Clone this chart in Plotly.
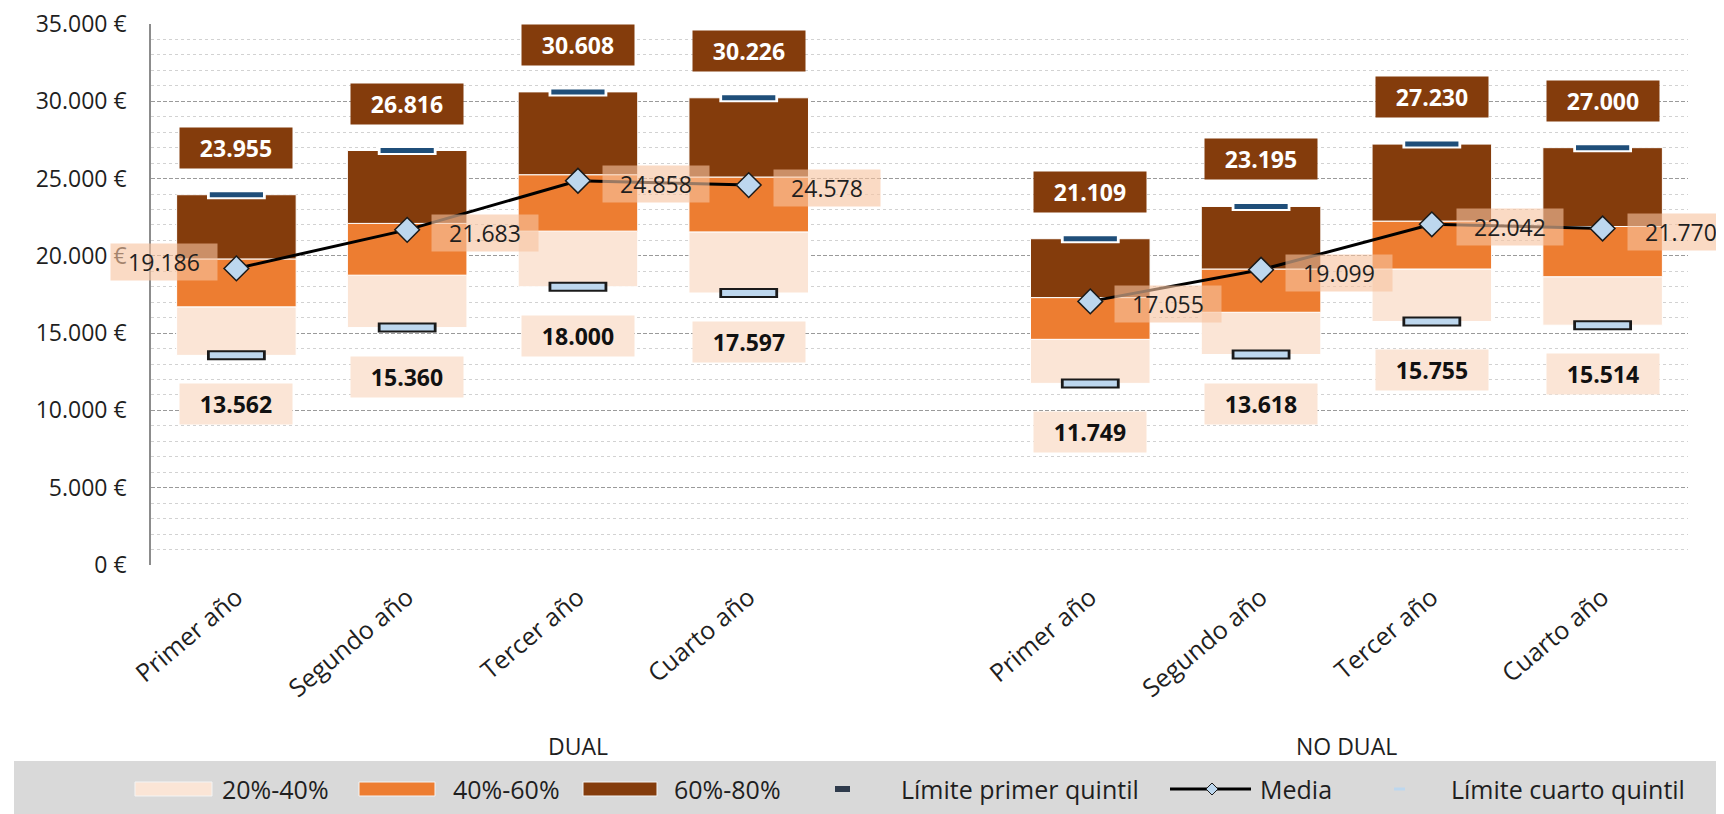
import plotly.graph_objects as go

# ---------------- data ----------------
years = ["Primer año", "Segundo año", "Tercer año", "Cuarto año"]
group_names = ["DUAL", "NO DUAL"]

dual_p20 = [13562, 15360, 18000, 17597]
dual_p40 = [16700, 18750, 21600, 21550]
dual_p60 = [19800, 22100, 25250, 25100]
dual_p80 = [23955, 26816, 30608, 30226]
dual_mean = [19186, 21683, 24858, 24578]

nodual_p20 = [11749, 13618, 15755, 15514]
nodual_p40 = [14600, 16350, 19150, 18650]
nodual_p60 = [17300, 19150, 22250, 21900]
nodual_p80 = [21109, 23195, 27230, 27000]
nodual_mean = [17055, 19099, 22042, 21770]

y_ticks = [0, 5000, 10000, 15000, 20000, 25000, 30000, 35000]
y_tick_text = ["0 €", "5.000 €", "10.000 €", "15.000 €", "20.000 €", "25.000 €", "30.000 €", "35.000 €"]

legend_labels = ["20%-40%", "40%-60%", "60%-80%", "Límite primer quintil", "Media", "Límite cuarto quintil"]

# ---------------- build combined category axis (gap between groups) ----------------
cat_ids = ["D1", "D2", "D3", "D4", "GAP", "N1", "N2", "N3", "N4"]
tick_text = years + [""] + years

def comb(a, b):
    return list(a) + [None] + list(b)

p20 = comb(dual_p20, nodual_p20)
p40 = comb(dual_p40, nodual_p40)
p60 = comb(dual_p60, nodual_p60)
p80 = comb(dual_p80, nodual_p80)
mean = comb(dual_mean, nodual_mean)

def diff(hi, lo):
    return [None if (h is None or l is None) else h - l for h, l in zip(hi, lo)]

def fmt(v):
    return f"{v:,}".replace(",", ".")

C_LIGHT = "#FBE5D6"
C_ORANGE = "#ED7D31"
C_BROWN = "#843C0C"
C_LBLUE = "#BDD7EE"
C_DBLUE = "#1F4E79"
FONT = "'Open Sans', sans-serif"
TXT = "#1f1f1f"

fig = go.Figure()

seg_specs = [
    (legend_labels[0], p20, diff(p40, p20), C_LIGHT),
    (legend_labels[1], p40, diff(p60, p40), C_ORANGE),
    (legend_labels[2], p60, diff(p80, p60), C_BROWN),
]
for name, base, h, col in seg_specs:
    fig.add_trace(go.Bar(
        x=cat_ids, y=h, base=base, name=name, width=0.7,
        marker=dict(color=col, line=dict(color="white", width=1)),
        showlegend=False, hoverinfo="skip",
    ))

# P80 dash (dark) with white outline
fig.add_trace(go.Scatter(
    x=cat_ids, y=p80, mode="markers", showlegend=False, hoverinfo="skip",
    marker=dict(symbol="line-ew", size=42, color="white", line=dict(color="white", width=9)),
))
fig.add_trace(go.Scatter(
    x=cat_ids, y=p80, mode="markers", name=legend_labels[3], showlegend=False,
    marker=dict(symbol="line-ew", size=38, color=C_DBLUE, line=dict(color=C_DBLUE, width=5)),
))
# P20 dash (light blue with dark outline)
fig.add_trace(go.Scatter(
    x=cat_ids, y=p20, mode="markers", showlegend=False, hoverinfo="skip",
    marker=dict(symbol="line-ew", size=42, color="#1a1a1a", line=dict(color="#1a1a1a", width=10)),
))
fig.add_trace(go.Scatter(
    x=cat_ids, y=p20, mode="markers", name=legend_labels[5], showlegend=False,
    marker=dict(symbol="line-ew", size=38, color=C_LBLUE, line=dict(color=C_LBLUE, width=6)),
))

# Mean line with diamonds
fig.add_trace(go.Scatter(
    x=cat_ids, y=mean, mode="lines+markers", name=legend_labels[4], showlegend=False,
    line=dict(color="black", width=3),
    marker=dict(symbol="diamond", size=19, color=C_LBLUE, line=dict(color="#1a1a1a", width=1.5)),
))

annotations = []
for i, cid in enumerate(cat_ids):
    if p80[i] is None:
        continue
    annotations.append(dict(
        x=cid, y=p80[i], xref="x", yref="y", yshift=47,
        text=f"<b>{fmt(p80[i])}</b>", showarrow=False,
        font=dict(family=FONT, size=23, color="white"),
        bgcolor=C_BROWN, width=106, height=34, borderpad=3,
    ))
    annotations.append(dict(
        x=cid, y=p20[i], xref="x", yref="y", yshift=-49,
        text=f"<b>{fmt(p20[i])}</b>", showarrow=False,
        font=dict(family=FONT, size=23, color="#111111"),
        bgcolor=C_LIGHT, width=106, height=34, borderpad=3,
    ))
    xs = -72 if i == 0 else 78
    ys = 6 if i == 0 else -3
    annotations.append(dict(
        x=cid, y=mean[i], xref="x", yref="y", xshift=xs, yshift=ys,
        text=fmt(mean[i]), showarrow=False,
        font=dict(family=FONT, size=23, color=TXT),
        bgcolor="rgba(247,196,160,0.62)", width=100, height=30, borderpad=3,
    ))

# ---------------- geometry (page body has an 8px margin) ----------------
OFF = 8
W, H = 1724 - OFF, 814 - OFF
ML, MR, MT = 151 - OFF, 36, 24 - OFF
PH = 541
MB = H - MT - PH
PW = W - ML - MR

def px(x):
    return (x - OFF - ML) / PW

def py(y):
    return (H - MB - (y - OFF)) / PH

# group labels
annotations.append(dict(x=2, y=py(746), xref="x", yref="paper", text=group_names[0], yanchor="middle",
                        showarrow=False, font=dict(family=FONT, size=23, color=TXT)))
annotations.append(dict(x=6.5, y=py(746), xref="x", yref="paper", text=group_names[1], yanchor="middle",
                        showarrow=False, font=dict(family=FONT, size=23, color=TXT)))

# ---------------- custom legend (layout decoration) ----------------
shapes = []
shapes.append(dict(type="rect", xref="paper", yref="paper", x0=px(14), x1=px(1740),
                   y0=py(761), y1=py(830), fillcolor="#D9D9D9", line=dict(width=0), layer="below"))
ly = 789
for (x0, x1, col) in [(135, 212, C_LIGHT), (359, 435, C_ORANGE), (583, 657, C_BROWN)]:
    shapes.append(dict(type="rect", xref="paper", yref="paper", x0=px(x0), x1=px(x1),
                       y0=py(ly + 7), y1=py(ly - 7), fillcolor=col,
                       line=dict(color="#f4f4f4", width=1)))
shapes.append(dict(type="rect", xref="paper", yref="paper", x0=px(835), x1=px(850),
                   y0=py(ly + 3), y1=py(ly - 3), fillcolor="#2F3B4C", line=dict(width=0)))
shapes.append(dict(type="line", xref="paper", yref="paper", x0=px(1170), x1=px(1251),
                   y0=py(ly), y1=py(ly), line=dict(color="black", width=3)))
dx, dy = 6, 6
shapes.append(dict(type="path", xref="paper", yref="paper",
                   path=f"M{px(1212-dx)},{py(ly)} L{px(1212)},{py(ly-dy)} L{px(1212+dx)},{py(ly)} L{px(1212)},{py(ly+dy)} Z",
                   fillcolor=C_LBLUE, line=dict(color="#1a1a1a", width=1)))
shapes.append(dict(type="rect", xref="paper", yref="paper", x0=px(1394), x1=px(1405),
                   y0=py(ly + 1.5), y1=py(ly - 1.5), fillcolor=C_LBLUE, line=dict(width=0)))

for xc, txt in zip([275, 506, 727, 1020, 1296, 1568], legend_labels):
    annotations.append(dict(x=px(xc), y=py(ly), xref="paper", yref="paper", xanchor="center",
                            yanchor="middle", text=txt, showarrow=False,
                            font=dict(family=FONT, size=25, color=TXT)))

fig.update_layout(
    width=W, height=H,
    margin=dict(l=ML, r=MR, t=MT, b=MB, autoexpand=False),
    paper_bgcolor="white", plot_bgcolor="white",
    barmode="overlay",
    showlegend=False,
    annotations=annotations, shapes=shapes,
    font=dict(family=FONT, color=TXT),
)
fig.update_xaxes(
    type="category", categoryorder="array", categoryarray=cat_ids,
    tickvals=cat_ids, ticktext=tick_text, tickangle=-40,
    tickfont=dict(family=FONT, size=25, color=TXT),
    showgrid=False, showline=False, ticks="", range=[-0.5, 8.5],
    ticklabelstandoff=12, automargin=False, ticklabeloverflow="allow",
)
fig.update_yaxes(
    range=[0, 35000], tickmode="array", tickvals=y_ticks, ticktext=y_tick_text,
    tickfont=dict(family=FONT, size=23, color=TXT),
    showgrid=True, gridcolor="#9A9A9A", griddash="4px,2px", gridwidth=1,
    minor=dict(dtick=1000, showgrid=True, gridcolor="#D2D2D2", griddash="3px,3px", gridwidth=1),
    zeroline=False, showline=True, linecolor="#8C8C8C", linewidth=1.5,
    ticks="", ticklabelstandoff=18, automargin=False, ticklabeloverflow="allow",
)

fig.write_html("out.html")
